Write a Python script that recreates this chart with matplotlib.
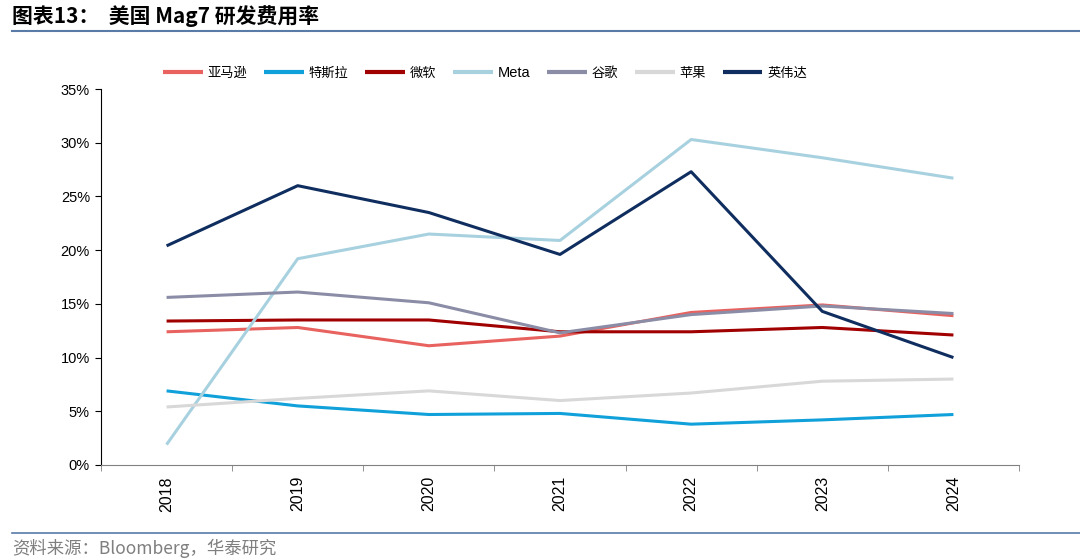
import matplotlib.pyplot as plt
from matplotlib.lines import Line2D
from matplotlib.ticker import FuncFormatter, FixedLocator

plt.rcParams['font.family'] = ['Liberation Sans', 'Noto Sans CJK SC', 'DejaVu Sans']

# data (R&D expense / revenue, %)
years = ['2018', '2019', '2020', '2021', '2022', '2023', '2024']
names = ['亚马逊', '特斯拉', '微软', 'Meta', '谷歌', '苹果', '英伟达']
amazon = [12.4, 12.8, 11.1, 12.0, 14.2, 14.9, 13.9]
tesla = [6.9, 5.5, 4.7, 4.8, 3.8, 4.2, 4.7]
microsoft = [13.4, 13.5, 13.5, 12.4, 12.4, 12.8, 12.1]
meta = [1.9, 19.2, 21.5, 20.9, 30.3, 28.6, 26.7]
google = [15.6, 16.1, 15.1, 12.3, 14.0, 14.8, 14.1]
apple = [5.4, 6.2, 6.9, 6.0, 6.7, 7.8, 8.0]
nvidia = [20.4, 26.0, 23.5, 19.6, 27.3, 14.3, 10.0]

series = [amazon, tesla, microsoft, meta, google, apple, nvidia]
colors = ['#e8625f', '#10a0da', '#a00000', '#a8d1e0', '#8b8da7', '#d8d8d8', '#0f2e5f']

fig = plt.figure(figsize=(10.8, 5.6), dpi=100)
ax = fig.add_axes([101/1080, (560-465)/560, (1019-101)/1080, (465-89)/560])

x = list(range(len(years)))
for vals, name, c in zip(series, names, colors):
    ax.plot(x, vals, color=c, lw=2.2, label=name, solid_capstyle='butt')

ax.set_xlim(-0.5, len(years) - 0.5)
ax.set_ylim(0, 35)
ax.set_yticks(range(0, 36, 5))
ax.yaxis.set_major_formatter(FuncFormatter(lambda v, p: f'{v:.0f}%'))
ax.set_xticks(x)
ax.set_xticklabels(years, rotation=90)
ax.xaxis.set_minor_locator(FixedLocator([i - 0.5 for i in range(len(years) + 1)]))
ax.tick_params(axis='x', which='major', length=0, pad=8, labelsize=11.5)
ax.tick_params(axis='x', which='minor', length=4, color='#808080')
ax.tick_params(axis='y', length=4, labelsize=10.5, color='black', pad=4)

for s in ['top', 'right']:
    ax.spines[s].set_visible(False)
ax.spines['left'].set_color('black')
ax.spines['bottom'].set_color('#808080')

leg = ax.legend(ncol=7, frameon=False, loc='center', bbox_to_anchor=(485/1080, 1 - 73/560),
                bbox_transform=fig.transFigure, handlelength=3.0, columnspacing=1.3,
                handletextpad=0.35, prop={'family': ['Noto Sans CJK SC', 'Liberation Sans'], 'size': 9.5})
for t in leg.get_texts():
    if t.get_text() == 'Meta':
        t.set_fontfamily('Liberation Sans')
        t.set_fontsize(10.5)
for h in leg.get_lines():
    h.set_linewidth(3)

fig.text(12/1080, 1 - 16/560, '图表13：  美国 Mag7 研发费用率', fontsize=15, fontweight='bold',
         va='center', ha='left', family=['Noto Sans CJK SC', 'Liberation Sans'])
fig.add_artist(Line2D([12/1080, 1], [1 - 31/560] * 2, color='#5a7aa8', lw=1.5))
fig.add_artist(Line2D([12/1080, 1], [1 - 533/560] * 2, color='#5a7aa8', lw=1.2))
fig.text(12/1080, 1 - 548/560, '资料来源：Bloomberg，华泰研究', fontsize=12.5, color='#7f7f7f',
         va='center', ha='left', family=['Noto Sans CJK SC', 'Liberation Sans'])

fig.savefig('out.png', dpi=100)
